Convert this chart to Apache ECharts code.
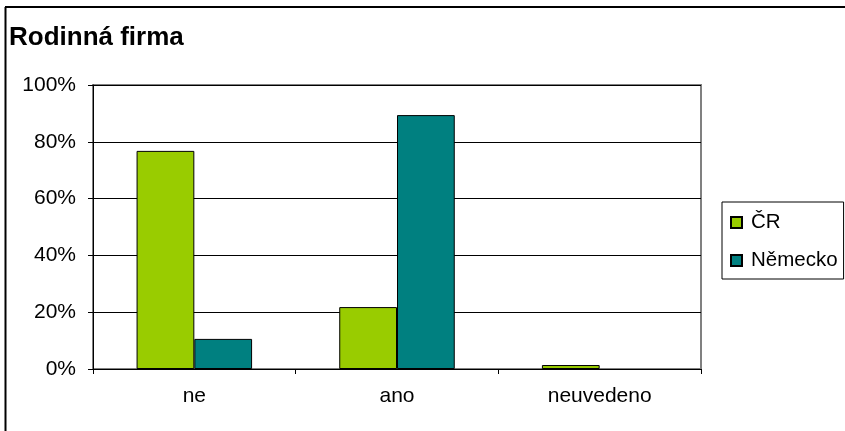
<!DOCTYPE html>
<html>
<head>
<meta charset="utf-8">
<script src="https://cdn.jsdelivr.net/npm/echarts@6/dist/echarts.min.js"></script>
<style>
html,body{margin:0;padding:0;background:#fff;}
#c{width:845px;height:431px;}
</style>
</head>
<body>
<div id="c"></div>
<script>
var categories = ['ne', 'ano', 'neuvedeno'];
var seriesNames = ['ČR', 'Německo'];
var valuesCR = [76.8, 21.8, 1.4];
var valuesDE = [10.6, 89.4, 0];
var yTicks = [0, 20, 40, 60, 80, 100];

function hideZero(arr) { return arr.map(function (v) { return v === 0 ? '-' : v; }); }

var FONT = "'Liberation Sans', Arial, sans-serif";
var chart = echarts.init(document.getElementById('c'), null, {renderer: 'canvas'});
chart.setOption({
  animation: false,
  backgroundColor: '#fff',
  title: {
    text: 'Rodinná firma',
    left: 4,
    top: 20,
    textStyle: {fontFamily: FONT, fontSize: 26, fontWeight: 'bold', color: '#000'}
  },
  legend: {
    orient: 'vertical',
    left: 722,
    top: 202,
    borderColor: '#000',
    borderWidth: 1,
    padding: [10, 6, 8, 8],
    itemWidth: 11,
    itemHeight: 11,
    itemGap: 17,
    icon: 'rect',
    textStyle: {fontFamily: FONT, fontSize: 20.5, color: '#000', padding: [0, 0, 0, 4]},
    data: seriesNames
  },
  grid: {
    left: 93, right: 144, top: 85, bottom: 62,
    show: true,
    borderColor: '#808080',
    borderWidth: 2,
    containLabel: false
  },
  xAxis: {
    type: 'category',
    data: categories,
    axisLine: {lineStyle: {color: '#000', width: 1}},
    axisTick: {show: true, length: 5, lineStyle: {color: '#000'}},
    axisLabel: {fontFamily: FONT, fontSize: 21, color: '#000', margin: 17}
  },
  yAxis: {
    type: 'value',
    min: 0, max: 100, interval: 20,
    axisLine: {show: true, lineStyle: {color: '#000', width: 1}},
    axisTick: {show: true, length: 5, lineStyle: {color: '#000'}},
    axisLabel: {
      fontFamily: FONT, fontSize: 21, color: '#000', margin: 17,
      formatter: function (v) { return yTicks.indexOf(v) >= 0 ? v + '%' : ''; }
    },
    splitLine: {show: true, lineStyle: {color: '#000', width: 1}}
  },
  series: [
    {
      name: seriesNames[0], type: 'bar', data: hideZero(valuesCR),
      barGap: '0%', barCategoryGap: '43%',
      itemStyle: {color: '#99CC00', borderColor: '#000', borderWidth: 1}
    },
    {
      name: seriesNames[1], type: 'bar', data: hideZero(valuesDE),
      barGap: '0%', barCategoryGap: '43%',
      itemStyle: {color: '#008080', borderColor: '#000', borderWidth: 1}
    }
  ],
  graphic: [
    {type: 'line', silent: true, z: 100, shape: {x1: 5.5, y1: 7, x2: 5.5, y2: 431}, style: {stroke: '#000', lineWidth: 2}},
    {type: 'line', silent: true, z: 100, shape: {x1: 5, y1: 7, x2: 845, y2: 7}, style: {stroke: '#000', lineWidth: 2}}
  ]
});
</script>
</body>
</html>
